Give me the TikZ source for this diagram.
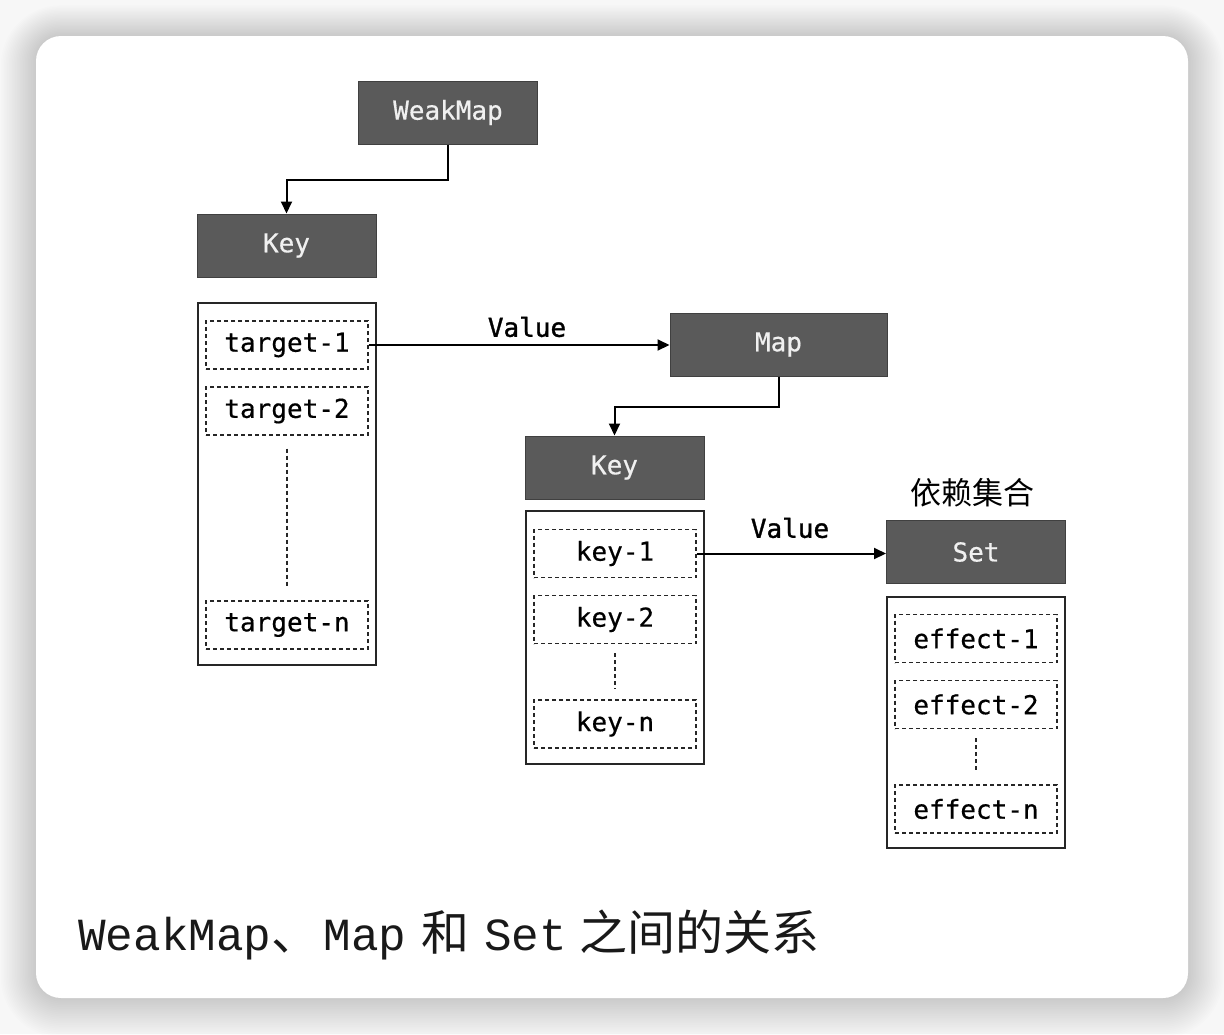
\documentclass[tikz,border=0pt]{standalone}
\usepackage{fontspec}
\usetikzlibrary{arrows.meta}
\newfontfamily\boxmono[FakeBold=0.5]{DejaVu Sans Mono}
\newfontfamily\labmono[FakeBold=1.2]{DejaVu Sans Mono}
\newfontfamily\capmono{Liberation Mono}
\newfontfamily\cjkfont{Noto Sans CJK SC}
\definecolor{boxfill}{HTML}{5A5A5A}
\definecolor{boxline}{HTML}{404040}
\begin{document}
\begin{tikzpicture}[x=1pt,y=-1pt,
  darkbox/.style={draw=boxline,fill=boxfill,line width=1pt,inner sep=0pt,
    minimum width=179pt,minimum height=63pt,text=white!94!black,
    font=\boxmono\fontsize{26}{26}\selectfont},
  holder/.style={draw=black!85,line width=1.5pt,inner sep=0pt,minimum width=178pt},
  itembox/.style={draw=black!85,line width=1.4pt,dash pattern=on 4pt off 3pt,inner sep=0pt,
    minimum width=162pt,minimum height=48pt,text=black,
    font=\boxmono\fontsize{26}{26}\selectfont},
  dots/.style={draw=black!85,line width=1.4pt,dash pattern=on 4pt off 3pt},
  link/.style={draw=black,line width=2pt,-{Triangle[length=12pt,width=11pt]}},
  vlabel/.style={font=\labmono\fontsize{26}{26}\selectfont,inner sep=0pt,text=black}]
\useasboundingbox (0,0) rectangle (1224,1034);
% background and card shadow
\fill[white!97!black] (0,0) rectangle (1224,1034);
\foreach \i in {1,...,22}{
  \fill[black,opacity=0.008,rounded corners={25pt+1.6*\i pt}]
    (36-1.6*\i,36-1.4*\i) rectangle (1188+1.6*\i,998+1.8*\i);
}
\fill[white,rounded corners=25pt] (36,36) rectangle (1188,998);
% WeakMap level
\node[darkbox] (wm) at (448,112.5) {WeakMap};
\node[darkbox] (k1) at (286.5,245.5) {Key};
\node[holder,minimum height=362pt] (c1) at (287,484) {};
\node[itembox] (t1) at (287,345) {target-1};
\node[itembox] (t2) at (287,411) {target-2};
\node[itembox] (tn) at (287,625) {target-n};
\draw[dots] ([yshift=-13pt]t2.south) -- ([yshift=14pt]tn.north);
\draw[link] (wm.south) -- ++(0,35) -| (k1.north);
% Map level
\node[darkbox,minimum width=217pt] (map) at (778.5,344.5) {Map};
\draw[link] (t1.east) -- (t1.east -| map.west);
\node[vlabel] (v1) at (527,327) {Value};
\node[darkbox] (k2) at (614.5,467.5) {Key};
\node[holder,minimum height=253pt] (c2) at (615,637.5) {};
\node[itembox] (ky1) at (615,553.5) {key-1};
\node[itembox] (ky2) at (615,619.5) {key-2};
\node[itembox] (kyn) at (615,724) {key-n};
\draw[dots] ([yshift=-9pt]ky2.south) -- ([yshift=10pt]kyn.north);
\draw[link] (map.south) -- ++(0,30) -| (k2.north);
% Set level
\node[darkbox] (set) at (976,552) {Set};
\node[font=\cjkfont\fontsize{31}{31}\selectfont,inner sep=0pt] (dep) at (972,493) {依赖集合};
\draw[link] (ky1.east) -- (ky1.east -| set.west);
\node[vlabel] (v2) at (790,528) {Value};
\node[holder,minimum height=251pt] (c3) at (976,722.5) {};
\node[itembox] (e1) at (976,638.5) {effect-1};
\node[itembox] (e2) at (976,704.5) {effect-2};
\node[itembox] (en) at (976,809) {effect-n};
\draw[dots] ([yshift=-9pt]e2.south) -- ([yshift=12pt]en.north);
% caption
\node[anchor=base west,inner sep=0pt,text=black!90] (cap) at (78,950)
  {\capmono\fontsize{46}{46}\selectfont WeakMap\cjkfont\fontsize{48}{48}\selectfont 、\hspace{4pt}\capmono\fontsize{46}{46}\selectfont Map\hspace{15pt}\cjkfont\fontsize{48}{48}\selectfont 和\hspace{15pt}\capmono\fontsize{46}{46}\selectfont Set\hspace{12pt}\cjkfont\fontsize{48}{48}\selectfont 之间的关系};
\end{tikzpicture}
\end{document}
